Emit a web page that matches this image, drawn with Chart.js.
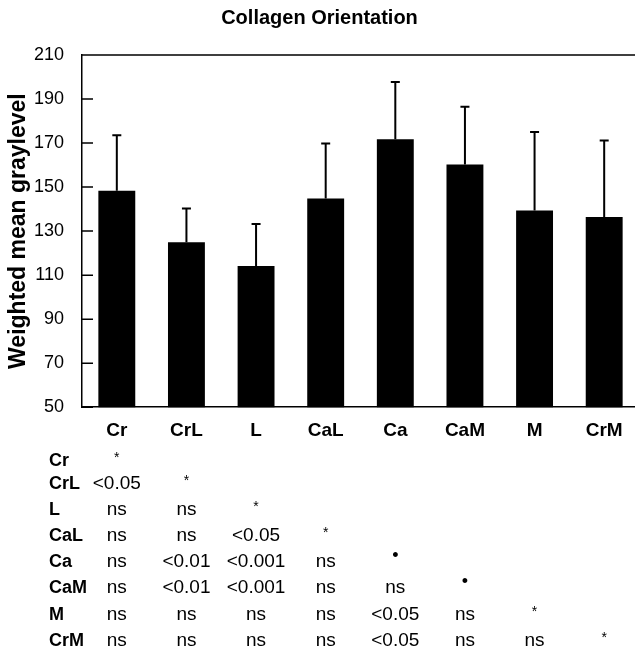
<!DOCTYPE html>
<html>
<head>
<meta charset="utf-8">
<title>Collagen Orientation</title>
<script src="https://cdn.jsdelivr.net/npm/chart.js@4"></script>
<style>
    html, body { margin: 0; padding: 0; background: #fff; overflow: hidden; }
</style>
</head>
<body>
<canvas id="collagenCanvas" width="645" height="650"></canvas>
<script>
// Regions of the sample
const categories = ['Cr', 'CrL', 'L', 'CaL', 'Ca', 'CaM', 'M', 'CrM'];
// Weighted mean graylevel for each region
const meanValues = [148.3, 124.9, 114.2, 144.8, 171.7, 160.2, 139.4, 136.4];
// Upper error bar (SD) for each region
const sdValues = [25.3, 15.4, 19.0, 25.0, 26.0, 26.3, 35.6, 34.8];
// Y axis ticks
const yTicks = [50, 70, 90, 110, 130, 150, 170, 190, 210];

// Significance table under the chart (row label + cells, one per column)
const tableRows = ['Cr', 'CrL', 'L', 'CaL', 'Ca', 'CaM', 'M', 'CrM'];
const tableCells = [
    ['*'],
    ['<0.05', '*'],
    ['ns', 'ns', '*'],
    ['ns', 'ns', '<0.05', '*'],
    ['ns', '<0.01', '<0.001', 'ns', '•'],
    ['ns', '<0.01', '<0.001', 'ns', 'ns', '•'],
    ['ns', 'ns', 'ns', 'ns', '<0.05', 'ns', '*'],
    ['ns', 'ns', 'ns', 'ns', '<0.05', 'ns', 'ns', '*']
];

const FONT = '"Liberation Sans", Arial, Helvetica, sans-serif';
Chart.defaults.font.family = FONT;
Chart.defaults.color = '#000';

// Draws the upper error bars with a small cap
const errorBarPlugin = {
    id: 'errorBars',
    afterDatasetsDraw(chart) {
        const ctx = chart.ctx;
        const yScale = chart.scales.y;
        const meta = chart.getDatasetMeta(0);
        ctx.save();
        ctx.strokeStyle = '#000';
        ctx.lineWidth = 2;
        meta.data.forEach((bar, i) => {
            const yTop = yScale.getPixelForValue(meanValues[i] + sdValues[i]);
            const yBar = yScale.getPixelForValue(meanValues[i]);
            ctx.beginPath();
            ctx.moveTo(bar.x, yBar);
            ctx.lineTo(bar.x, yTop);
            ctx.moveTo(bar.x - 4.5, yTop);
            ctx.lineTo(bar.x + 4.5, yTop);
            ctx.stroke();
        });
        ctx.restore();
    }
};

// Top border and tick marks pointing into the plot
const framePlugin = {
    id: 'frame',
    afterDraw(chart) {
        const ctx = chart.ctx;
        const area = chart.chartArea;
        const yScale = chart.scales.y;
        ctx.save();
        ctx.strokeStyle = '#000';
        ctx.lineWidth = 1.5;
        ctx.beginPath();
        ctx.moveTo(area.left, area.top);
        ctx.lineTo(area.right, area.top);
        yTicks.forEach(v => {
            const y = yScale.getPixelForValue(v);
            ctx.moveTo(area.left, y);
            ctx.lineTo(area.left + 11, y);
        });
        ctx.stroke();
        ctx.restore();
    }
};

// Significance table, columns lined up with the bars
const tablePlugin = {
    id: 'sigTable',
    afterDraw(chart) {
        const ctx = chart.ctx;
        const xScale = chart.scales.x;
        const rowY = [459, 482, 508, 534, 560, 586, 613, 639];
        ctx.save();
        ctx.fillStyle = '#000';
        ctx.textBaseline = 'alphabetic';
        tableRows.forEach((name, r) => {
            const base = rowY[r] + 6.5;
            ctx.font = 'bold 18px ' + FONT;
            ctx.textAlign = 'left';
            ctx.fillText(name, 49, base);
            tableCells[r].forEach((cell, c) => {
                const x = xScale.getPixelForValue(c);
                ctx.textAlign = 'center';
                if (cell === '*') {
                    ctx.font = '14px ' + FONT;
                    ctx.fillText(cell, x, base - 4);
                } else if (cell === '•') {
                    ctx.font = '18px ' + FONT;
                    ctx.fillText(cell, x, base - 6);
                } else {
                    ctx.font = '19px ' + FONT;
                    ctx.fillText(cell, x, base);
                }
            });
        });
        ctx.restore();
    }
};

const ctx = document.getElementById('collagenCanvas').getContext('2d');

let collagenChart = new Chart(ctx, {
    type: 'bar',
    data: {
        labels: categories,
        datasets: [{
            label: 'Weighted mean graylevel',
            data: meanValues,
            backgroundColor: '#000',
            borderWidth: 0,
            barPercentage: 0.53,
            categoryPercentage: 1.0
        }]
    },
    options: {
        responsive: false,
        devicePixelRatio: 1,
        animation: false,
        layout: {
            padding: { left: 0, right: 6, top: 0, bottom: 196 }
        },
        scales: {
            x: {
                grid: { display: false, drawTicks: false },
                border: { display: true, color: '#000', width: 1.5 },
                ticks: {
                    padding: 12,
                    font: { size: 19, weight: 'bold' },
                    color: '#000'
                }
            },
            y: {
                min: 50,
                max: 210,
                afterFit(scale) { scale.width = 82; },
                afterBuildTicks(scale) {
                    scale.ticks = yTicks.map(v => ({ value: v }));
                },
                grid: { display: false, drawTicks: false },
                border: { display: true, color: '#000', width: 1.5 },
                ticks: {
                    padding: 18,
                    font: { size: 18 },
                    color: '#000'
                },
                title: {
                    display: true,
                    text: 'Weighted mean graylevel',
                    font: { size: 23, weight: 'bold' },
                    color: '#000',
                    padding: { top: 5, bottom: 0 }
                }
            }
        },
        plugins: {
            legend: { display: false },
            tooltip: { enabled: false },
            title: {
                display: true,
                text: 'Collagen Orientation',
                font: { size: 20, weight: 'bold' },
                color: '#000',
                padding: { top: 6, bottom: 25 }
            }
        }
    },
    plugins: [errorBarPlugin, framePlugin, tablePlugin]
});
</script>
</body>
</html>
